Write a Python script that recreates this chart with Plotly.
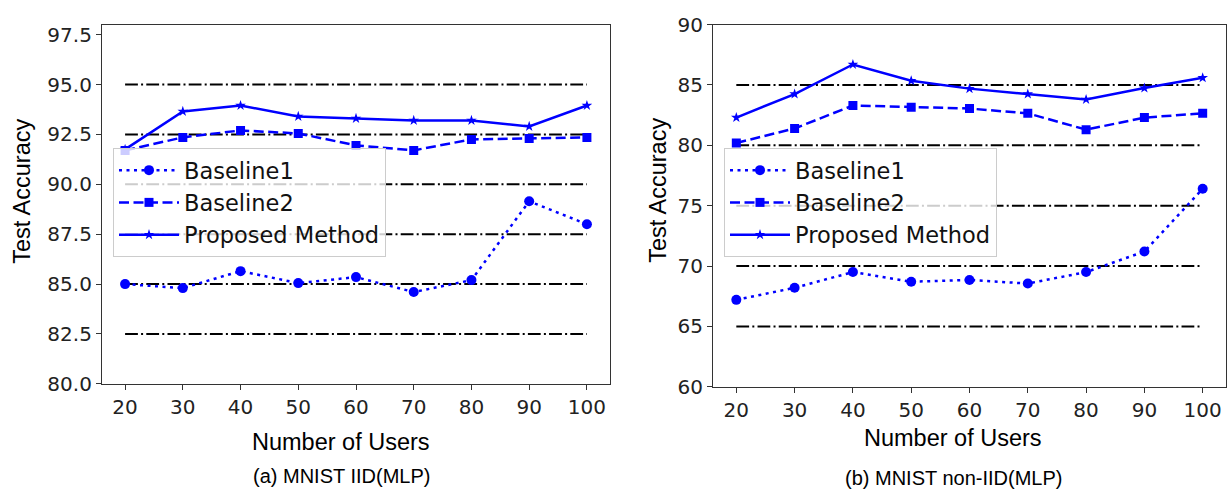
import plotly.graph_objects as go

users = [20, 30, 40, 50, 60, 70, 80, 90, 100]

# (a) MNIST IID (MLP)
iid_baseline1 = [85.0, 84.8, 85.65, 85.05, 85.35, 84.6, 85.2, 89.15, 88.0]
iid_baseline2 = [91.7, 92.35, 92.7, 92.55, 91.95, 91.7, 92.25, 92.3, 92.35]
iid_proposed = [91.75, 93.65, 93.95, 93.4, 93.3, 93.2, 93.2, 92.9, 93.95]
iid_ref_levels = [95.0, 92.5, 90.0, 87.5, 85.0, 82.5]
iid_yticks = [80.0, 82.5, 85.0, 87.5, 90.0, 92.5, 95.0, 97.5]

# (b) MNIST non-IID (MLP)
noniid_baseline1 = [67.2, 68.2, 69.5, 68.7, 68.85, 68.55, 69.5, 71.2, 76.4]
noniid_baseline2 = [80.2, 81.4, 83.3, 83.15, 83.05, 82.65, 81.3, 82.3, 82.65]
noniid_proposed = [82.3, 84.25, 86.7, 85.35, 84.7, 84.25, 83.8, 84.75, 85.6]
noniid_ref_levels = [85, 80, 75, 70, 65]
noniid_yticks = [60, 65, 70, 75, 80, 85, 90]

series_names = ["Baseline1", "Baseline2", "Proposed Method"]
captions = ["(a) MNIST IID(MLP)", "(b) MNIST non-IID(MLP)"]
x_title = "Number of Users"
y_title = "Test Accuracy"

W, H = 1229, 491
BLUE = "#0000ff"


def px(x):
    return x / W


def py(y):
    return 1 - y / H


fig = go.Figure()

styles = [
    dict(dash="3px,4.5px", symbol="circle", size=10),
    dict(dash="10px,4.5px", symbol="square", size=9),
    dict(dash="solid", symbol="star", size=8),
]


def add_panel(xa, ya, legend, refs, series):
    for v in refs:
        fig.add_trace(go.Scatter(
            x=[users[0], users[-1]], y=[v, v], mode="lines",
            line=dict(color="black", width=2, dash="12.8px,3.2px,2px,3.2px"),
            showlegend=False, hoverinfo="skip", xaxis=xa, yaxis=ya))
    for name, vals, st in zip(series_names, series, styles):
        fig.add_trace(go.Scatter(
            x=users, y=vals, mode="lines+markers", name=name,
            line=dict(color=BLUE, width=2.5, dash=st["dash"]),
            marker=dict(color=BLUE, symbol=st["symbol"], size=st["size"],
                        line=dict(width=0)),
            legend=legend, xaxis=xa, yaxis=ya))


add_panel("x", "y", "legend", iid_ref_levels,
          [iid_baseline1, iid_baseline2, iid_proposed])
add_panel("x2", "y2", "legend2", noniid_ref_levels,
          [noniid_baseline1, noniid_baseline2, noniid_proposed])

tick_font = dict(family="DejaVu Sans", size=20, color="#222222")
axis_common = dict(showline=True, mirror=True, linecolor="#333333", linewidth=1.2,
                   ticks="outside", ticklen=5, tickcolor="#333333", tickwidth=1.2,
                   showgrid=False, zeroline=False, tickfont=tick_font)

legend_common = dict(xanchor="left", yanchor="top",
                     bgcolor="rgba(255,255,255,0.8)", bordercolor="#cccccc", borderwidth=1,
                     font=dict(family="DejaVu Sans", size=22.5, color="#111111"),
                     itemwidth=60, tracegroupgap=0)

fig.update_layout(
    width=W, height=H,
    margin=dict(l=0, r=0, t=0, b=0),
    paper_bgcolor="white", plot_bgcolor="white",
    xaxis=dict(domain=[px(102), px(610)], range=[16, 104], tickvals=users,
               anchor="y", **axis_common),
    yaxis=dict(domain=[py(391), py(13.3)], range=[80, 98], tickvals=iid_yticks,
               tickformat=".1f", anchor="x", **axis_common),
    xaxis2=dict(domain=[px(713), px(1226)], range=[16, 104], tickvals=users,
                anchor="y2", **axis_common),
    yaxis2=dict(domain=[py(394), py(13.3)], range=[60, 90], tickvals=noniid_yticks,
                anchor="x2", **axis_common),
    legend=dict(x=px(113), y=py(143), **legend_common),
    legend2=dict(x=px(724), y=py(143), **legend_common),
    showlegend=True,
)

title_font = dict(family="Liberation Sans, Arial", size=23.5, color="black")
cap_font = dict(family="Liberation Sans, Arial", size=20, color="black")

annots = [
    dict(text=x_title, x=px(341), y=py(452), font=title_font, textangle=0),
    dict(text=x_title, x=px(953), y=py(448), font=title_font, textangle=0),
    dict(text=y_title, x=px(22), y=py(189), font=title_font, textangle=-90),
    dict(text=y_title, x=px(658), y=py(188), font=title_font, textangle=-90),
    dict(text=captions[0], x=px(341), y=py(488), font=cap_font, textangle=0),
    dict(text=captions[1], x=px(953), y=py(490), font=cap_font, textangle=0),
]
for a in annots:
    fig.add_annotation(xref="paper", yref="paper", showarrow=False,
                       xanchor="center", yanchor="middle", **a)

fig.write_html("out.html")
